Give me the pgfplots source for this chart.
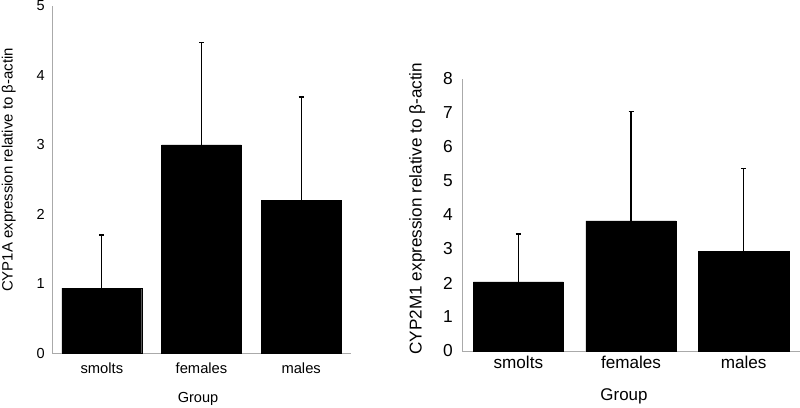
\documentclass[border=0pt]{standalone}
\usepackage{pgfplots}
\pgfplotsset{compat=1.18}
\usepackage{fontspec}
\setmainfont{Liberation Sans}
\definecolor{axgray}{RGB}{170,170,170}
\begin{document}
\begin{tikzpicture}[x=1bp,y=1bp]
\useasboundingbox (0,0) rectangle (800,407);
\pgfplotsset{
  myax/.style={
    scale only axis,
    axis x line*=bottom, axis y line*=left,
    axis line style={axgray, line width=1pt, -},
    xmin=-0.5, xmax=2.5, ymin=0,
    xtick={0,1,2}, xticklabels={smolts,females,males},
    major tick length=0pt,
    /pgf/number format/assume math mode=true,
    clip=false,
  },
  mybar/.style={ybar, bar width=0.8, fill=black, draw=black, line width=0.4pt,
    error bars/.cd, y dir=plus, y explicit,
    error bar style={line width=1.3pt, black},
    error mark options={rotate=90, mark size=2.5bp, line width=1.3pt, black}},
}
% left panel
\begin{axis}[myax, at={(52bp,54bp)}, anchor=south west,
  width=299bp, height=347bp, ymax=5, ytick={0,1,2,3,4,5},
  yticklabel style={font=\fontsize{14.6}{14.6}\selectfont, anchor=east, inner sep=0pt, xshift=-7bp},
  xticklabel style={font=\fontsize{14.8}{14.8}\selectfont, anchor=base, inner sep=0pt, yshift=-20.5bp},
]
\addplot[mybar] coordinates {(0,0.935) +- (0,0.765) (1,3.0) +- (0,1.47) (2,2.20) +- (0,1.49)};
\end{axis}
% right panel
\begin{axis}[myax, at={(462bp,56bp)}, anchor=south west,
  width=338bp, height=272bp, ymax=8, ytick={0,1,...,8},
  yticklabel style={font=\fontsize{17.4}{17.4}\selectfont, anchor=east, inner sep=0pt, xshift=-9bp},
  xticklabel style={font=\fontsize{17.2}{17.2}\selectfont, anchor=base, inner sep=0pt, yshift=-17bp},
]
\addplot[mybar] coordinates {(0,2.03) +- (0,1.41) (1,3.83) +- (0,3.21) (2,2.93) +- (0,2.43)};
\end{axis}
\node[rotate=90, anchor=base, inner sep=0pt, font=\fontsize{15}{15}\selectfont] at (12.7,237) {CYP1A expression relative to β-actin};
\node[rotate=90, anchor=base, inner sep=0pt, font=\fontsize{17.2}{17.2}\selectfont] at (421.5,198.5) {CYP2M1 expression relative to β-actin};
\node[anchor=base, inner sep=0pt, font=\fontsize{14.6}{14.6}\selectfont] at (198,4.3) {Group};
\node[anchor=base, inner sep=0pt, font=\fontsize{17}{17}\selectfont] at (624,7) {Group};
\end{tikzpicture}
\end{document}
